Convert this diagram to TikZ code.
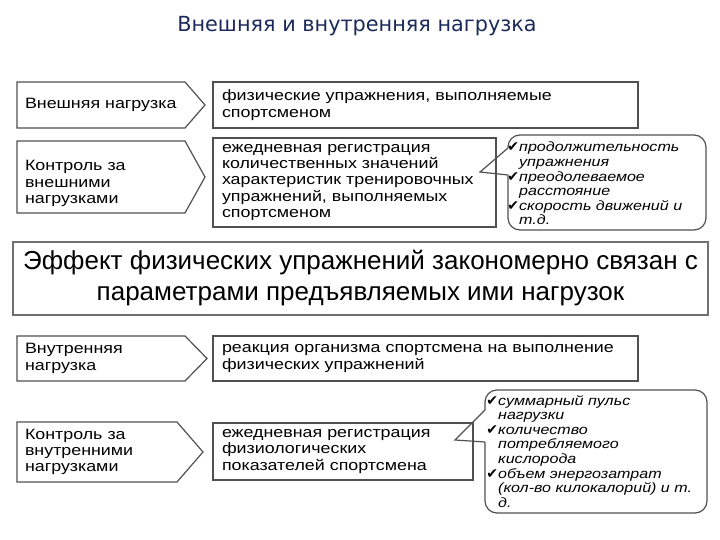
\documentclass[tikz,border=0pt]{standalone}
\usepackage{fontspec}
\setmainfont{Liberation Sans}[FakeStretch=1.19]
\newfontfamily\plainfont{Liberation Sans}
\newfontfamily\headfont{DejaVu Sans}
\newfontfamily\checkfont{DejaVu Sans}
\usetikzlibrary{positioning}

\definecolor{headblue}{HTML}{1B2A5A}
\definecolor{linegray}{HTML}{505050}
\definecolor{biggray}{HTML}{707070}

% check mark hanging left of an item
\newcommand{\chk}{\llap{\checkfont\fontsize{14}{14}\selectfont ✔}}
% outline of an arrow-like tag round a text node
\newcommand{\tagframe}[2]{%
  \draw[tagline] (#1.north west) -- ([xshift=-#2pt]#1.north east) -- (#1.east)
    -- ([xshift=-#2pt]#1.south east) -- (#1.south west) -- cycle;}

\tikzset{
  tagtext/.style={anchor=north west, inner xsep=8pt, inner ysep=0pt, outer sep=0pt,
    align=left, font=\fontsize{15}{16.3}\selectfont},
  tagline/.style={draw=linegray, line width=1.2pt, line join=miter},
  infobox/.style={draw=linegray, line width=1.2pt, anchor=north west, inner xsep=9pt,
    inner ysep=0pt, outer sep=0pt, align=left, font=\fontsize{15}{16.3}\selectfont},
  notetext/.style={anchor=north west, inner sep=0pt, align=left,
    font=\fontsize{13.5}{14.6}\selectfont\itshape},
  noteline/.style={draw=linegray, line width=1.2pt},
}

\begin{document}
\begin{tikzpicture}[x=1pt, y=-1pt]
  \useasboundingbox (0,0) rectangle (720,540);

  \node[font=\headfont\fontsize{20.8}{24}\selectfont, text=headblue] (title) at (357,26)
    {Внешняя и внутренняя нагрузка};

  % external load
  \node[tagtext, text width=172pt, minimum height=46pt] (ext) at (17,82) {Внешняя нагрузка};
  \tagframe{ext}{20}
  \node[infobox, text width=407pt, minimum height=46pt] (extdef) at (213,82)
    {физические упражнения, выполняемые\\спортсменом};

  \node[tagtext, text width=172pt, text height=30pt, text depth=42pt] (extctl) at (17,141)
    {Контроль за\\внешними\\нагрузками};
  \tagframe{extctl}{20}
  \node[infobox, text width=265pt, minimum height=89pt] (extreg) at (213,138)
    {ежедневная регистрация\\количественных значений\\характеристик тренировочных\\упражнений, выполняемых\\спортсменом};

  \coordinate (tipA) at (480,172);
  \node[notetext] (extlist) at (519,142)
    {\chk продолжительность\\упражнения\\\chk преодолеваемое\\расстояние\\\chk скорость движений и\\т.д.};
  \draw[noteline, rounded corners=12pt] (508,148) |- (706,135) |- (508,230) -- (508,175);
  \draw[noteline, line join=miter] (508,148) -- (tipA) -- (508,175);

  % main statement
  \node[draw=biggray, line width=1.5pt, minimum width=695pt, minimum height=73pt,
    align=center, font=\plainfont\fontsize{26}{31}\selectfont] (effect) at (360.5,278.5)
    {Эффект физических упражнений закономерно связан с\\параметрами предъявляемых ими нагрузок};

  % internal load
  \node[tagtext, text width=174pt, minimum height=45pt] (int) at (17,336) {Внутренняя\\нагрузка};
  \tagframe{int}{22}
  \node[infobox, text width=407pt, minimum height=45pt] (intdef) at (213,336)
    {реакция организма спортсмена на выполнение\\физических упражнений};

  \node[tagtext, text width=170pt, minimum height=60pt] (intctl) at (17,422)
    {Контроль за\\внутренними\\нагрузками};
  \tagframe{intctl}{26}
  \node[infobox, text width=242pt, minimum height=57pt] (intreg) at (213,423)
    {ежедневная регистрация\\физиологических\\показателей спортсмена};

  \coordinate (tipB) at (455,440);
  \node[notetext] (intlist) at (498,395)
    {\chk суммарный пульс\\нагрузки\\\chk количество\\потребляемого\\кислорода\\\chk объем энергозатрат\\(кол-во килокалорий) и т.\\д.};
  \draw[noteline, rounded corners=12pt] (485,410) |- (707,390) |- (485,513) -- (485,442);
  \draw[noteline, line join=miter] (485,410) -- (tipB) -- (485,442);
\end{tikzpicture}
\end{document}
